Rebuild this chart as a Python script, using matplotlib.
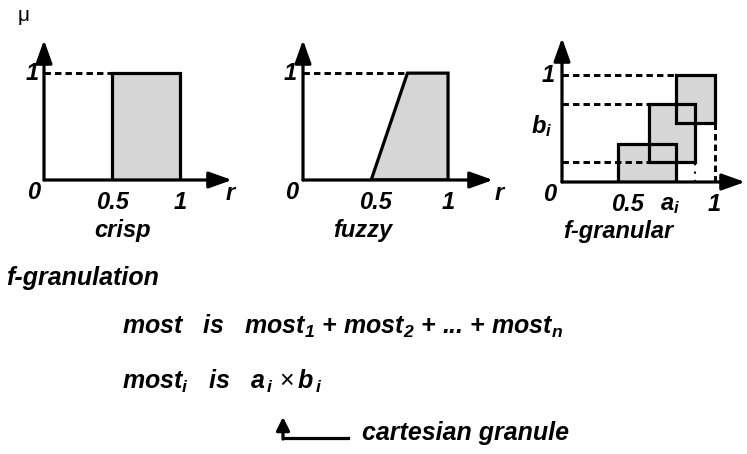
import numpy as np
import matplotlib.pyplot as plt
from matplotlib.patches import Polygon, Rectangle

plt.rcParams['font.family'] = ['Liberation Sans', 'DejaVu Sans']
plt.rcParams['mathtext.fontset'] = 'custom'
plt.rcParams['mathtext.it'] = 'Liberation Sans:bold:italic'
plt.rcParams['mathtext.rm'] = 'Liberation Sans:bold:italic'
plt.rcParams['mathtext.bf'] = 'Liberation Sans:bold:italic'

# data
crisp_x = [0.5, 0.5, 1.0, 1.0]
crisp_y = [0.0, 1.0, 1.0, 0.0]
fuzzy_x = [0.47, 0.72, 1.0, 1.0]
fuzzy_y = [0.0, 1.0, 1.0, 0.0]
# granules: (a_lo, a_hi, b_lo, b_hi)
gran_a = [(0.37, 0.75), (0.57, 0.875), (0.75, 1.0)]
gran_b = [(0.0, 0.36), (0.19, 0.73), (0.55, 1.0)]
panel_names = ['crisp', 'fuzzy', 'f-granular']

W, H = 747, 454
fig = plt.figure(figsize=(W / 100, H / 100), dpi=100)

LW = 2.3
GREY = '#d6d6d6'
LAB = dict(fontsize=17, fontweight='bold', fontstyle='italic', ha='center', va='center')


def make_ax(x0, y0, x1, y1, xmax, ymax):
    # pixel box -> figure fraction
    ax = fig.add_axes([x0 / W, 1 - y0 / H, (x1 - x0) / W, (y0 - y1) / H])
    ax.set_xlim(0, xmax)
    ax.set_ylim(0, ymax)
    ax.axis('off')
    ap = dict(arrowstyle='-|>,head_length=0.7,head_width=0.25', lw=LW, color='k',
              shrinkA=0, shrinkB=0, mutation_scale=20)
    ax.annotate('', xy=(xmax, 0), xytext=(0, 0), arrowprops=ap, annotation_clip=False)
    ax.annotate('', xy=(0, ymax), xytext=(0, 0), arrowprops=ap, annotation_clip=False)
    return ax


def dash(ax, x, y):
    ax.plot(x, y, color='k', lw=2.1, ls=(0, (2.2, 1.4)), clip_on=False)


# crisp
ax1 = make_ax(44, 180, 232, 40, 1.382, 1.31)
ax1.add_patch(Polygon(np.column_stack([crisp_x, crisp_y]), closed=True,
                      facecolor=GREY, edgecolor='k', lw=LW))
dash(ax1, [0, crisp_x[1]], [1, 1])
ax1.text(-0.09, 1.0, '1', **LAB)
ax1.text(-0.08, -0.12, '0', **LAB)
ax1.text(0.5, -0.21, '0.5', **LAB)
ax1.text(1.0, -0.21, '1', **LAB)
ax1.text(1.37, -0.13, 'r', **LAB)
ax1.text(-0.15, 1.54, 'μ', fontsize=15, ha='center', va='center')
ax1.text(0.58, -0.47, panel_names[0], **LAB)

# fuzzy
ax2 = make_ax(303, 180, 493, 40, 1.31, 1.31)
ax2.add_patch(Polygon(np.column_stack([fuzzy_x, fuzzy_y]), closed=True,
                      facecolor=GREY, edgecolor='k', lw=LW))
dash(ax2, [0, fuzzy_x[1]], [1, 1])
ax2.text(-0.09, 1.0, '1', **LAB)
ax2.text(-0.08, -0.12, '0', **LAB)
ax2.text(0.5, -0.21, '0.5', **LAB)
ax2.text(1.0, -0.21, '1', **LAB)
ax2.text(1.35, -0.13, 'r', **LAB)
ax2.text(0.41, -0.47, panel_names[1], **LAB)

# f-granular
ax3 = make_ax(562, 182, 745, 38, 1.20, 1.35)
for (a0, a1), (b0, b1) in zip(gran_a, gran_b):
    ax3.add_patch(Rectangle((a0, b0), a1 - a0, b1 - b0, facecolor=GREY,
                            edgecolor='none'))
for (a0, a1), (b0, b1) in zip(gran_a, gran_b):
    ax3.add_patch(Rectangle((a0, b0), a1 - a0, b1 - b0, facecolor='none',
                            edgecolor='k', lw=LW))
dash(ax3, [0, gran_a[2][0]], [gran_b[2][1]] * 2)
dash(ax3, [0, gran_a[1][0]], [gran_b[1][1]] * 2)
dash(ax3, [0, gran_a[1][0]], [gran_b[1][0]] * 2)
dash(ax3, [gran_a[2][1]] * 2, [0, gran_b[2][0]])
ax3.plot([gran_a[1][1]] * 2, [0, gran_b[1][0]], color='k', lw=1.5, ls=(0, (1, 3)))
ax3.text(-0.13, 0.52, r'b$_i$', **LAB)
ax3.text(-0.09, 1.0, '1', **LAB)
ax3.text(-0.08, -0.12, '0', **LAB)
ax3.text(0.43, -0.21, '0.5', **LAB)
ax3.text(0.71, -0.21, r'a$_i$', **LAB)
ax3.text(1.0, -0.21, '1', **LAB)
ax3.text(0.37, -0.46, panel_names[2], **LAB)

# lower text block, in pixel units
ov = fig.add_axes([0, 0, 1, 1])
ov.set_xlim(0, W)
ov.set_ylim(H, 0)
ov.axis('off')
TXT = dict(fontsize=18, fontstyle='italic', fontweight='bold', va='center', ha='left')
ov.text(6, 278, 'f-granulation', **TXT)
ov.text(122, 326, r'most   is   most$_1$ + most$_2$ + ... + most$_n$', **TXT)
ov.text(122, 381, r'most$_i$   is   a$_{\,i}$', **TXT)
ov.text(279, 381, '×', fontsize=18, va='center', ha='left')
ov.text(297, 381, r'b$_{\,i}$', **TXT)
ov.plot([283, 348], [438, 438], color='k', lw=LW)
ov.annotate('', xy=(283, 417), xytext=(283, 439),
            arrowprops=dict(arrowstyle='-|>,head_length=0.4,head_width=0.2', lw=LW,
                            color='k', shrinkA=0, shrinkB=0, mutation_scale=20))
ov.text(362, 433, 'cartesian granule', **TXT)

fig.savefig('out.png', dpi=100)
